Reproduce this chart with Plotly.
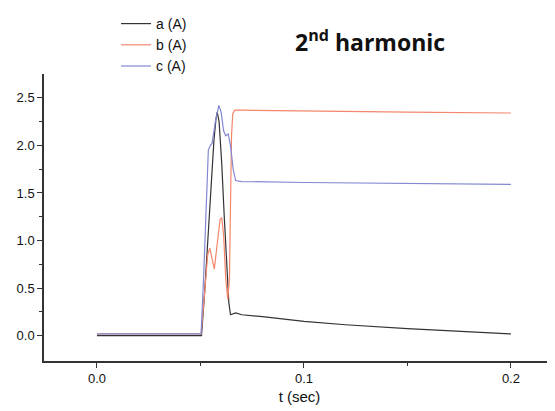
import plotly.graph_objects as go

# time samples (s) and values for each harmonic current series
t_a = [0, 0.0505, 0.0520, 0.0535, 0.0550, 0.0565, 0.0575, 0.0581, 0.0590, 0.0603, 0.0615,
       0.0627, 0.0637, 0.0645, 0.0655, 0.0670, 0.0700, 0.0800, 0.1000, 0.1200, 0.1500,
       0.1800, 0.2000]
a_vals = [0.0, 0.0, 0.45, 1.0, 1.55, 2.05, 2.28, 2.35, 2.25, 1.8, 1.25,
          0.7, 0.35, 0.22, 0.23, 0.24, 0.22, 0.20, 0.15, 0.115, 0.075,
          0.042, 0.018]

t_b = [0, 0.0503, 0.0520, 0.0535, 0.0545, 0.0557, 0.0567, 0.0580, 0.0595, 0.0603, 0.0612,
       0.0622, 0.0632, 0.0640, 0.0645, 0.0650, 0.0656, 0.0665, 0.0700, 0.1000, 0.1500, 0.2000]
b_vals = [0.02, 0.02, 0.45, 0.85, 0.92, 0.78, 0.70, 0.95, 1.22, 1.24, 1.05,
          0.6, 0.38, 0.6, 1.5, 2.1, 2.33, 2.37, 2.37, 2.36, 2.35, 2.34]

t_c = [0, 0.0503, 0.0515, 0.0528, 0.0538, 0.0548, 0.0556, 0.0572, 0.0589, 0.0600, 0.0612,
       0.0622, 0.0634, 0.0645, 0.0658, 0.0670, 0.0700, 0.1000, 0.1500, 0.2000]
c_vals = [0.02, 0.02, 0.6, 1.5, 1.95, 2.0, 2.02, 2.25, 2.42, 2.35, 2.15,
          2.1, 2.12, 2.0, 1.75, 1.63, 1.62, 1.61, 1.60, 1.59]

x_ticks = [0.0, 0.1, 0.2]
x_tick_labels = ["0.0", "0.1", "0.2"]
y_ticks = [0.0, 0.5, 1.0, 1.5, 2.0, 2.5]
y_tick_labels = ["0.0", "0.5", "1.0", "1.5", "2.0", "2.5"]

series = [
    ("a (A)", t_a, a_vals, "#333333"),
    ("b (A)", t_b, b_vals, "#f4866b"),
    ("c (A)", t_c, c_vals, "#8388d2"),
]

fig = go.Figure()
for name, t, v, col in series:
    fig.add_trace(go.Scatter(x=t, y=v, mode="lines", name=name,
                             line=dict(color=col, width=1.2)))

axis_font = dict(family="Liberation Sans, Arial", size=13, color="#111")
fig.update_layout(
    width=547, height=403,
    margin=dict(l=36, r=0, t=64, b=50),
    plot_bgcolor="white", paper_bgcolor="white",
    showlegend=True,
    legend=dict(x=0.141, y=1.232, xanchor="left", yanchor="top",
                font=dict(family="Liberation Sans, Arial", size=14, color="#111"),
                bgcolor="rgba(0,0,0,0)", tracegroupgap=0, itemwidth=30),
    annotations=[dict(text="<b>2<sup>nd</sup> harmonic</b>", xref="paper", yref="paper",
                      x=0.638, y=1.114, xanchor="center", yanchor="middle", showarrow=False,
                      font=dict(family="Open Sans", size=23, color="#111"))],
)
fig.update_xaxes(range=[-0.0256, 0.2213], tickvals=x_ticks, ticktext=x_tick_labels,
                 showgrid=False, zeroline=False, showline=True, linecolor="#333", linewidth=1.5,
                 ticks="outside", ticklen=5, tickwidth=1.3, tickcolor="#333",
                 minor=dict(tickvals=[0.05, 0.15], ticks="outside", ticklen=3, tickwidth=1.3,
                            tickcolor="#333"),
                 tickfont=axis_font,
                 title=dict(text="t (sec)", font=dict(family="Liberation Sans, Arial", size=15,
                                                       color="#111"), standoff=6))
fig.update_yaxes(range=[-0.266, 2.75], tickvals=y_ticks, ticktext=y_tick_labels,
                 showgrid=False, zeroline=False, showline=True, linecolor="#333", linewidth=1.5,
                 ticks="outside", ticklen=5, tickwidth=1.3, tickcolor="#333",
                 minor=dict(tickvals=[0.25, 0.75, 1.25, 1.75, 2.25], ticks="outside",
                            ticklen=3, tickwidth=1.3, tickcolor="#333"),
                 tickfont=axis_font)

fig.write_html("out.html")
